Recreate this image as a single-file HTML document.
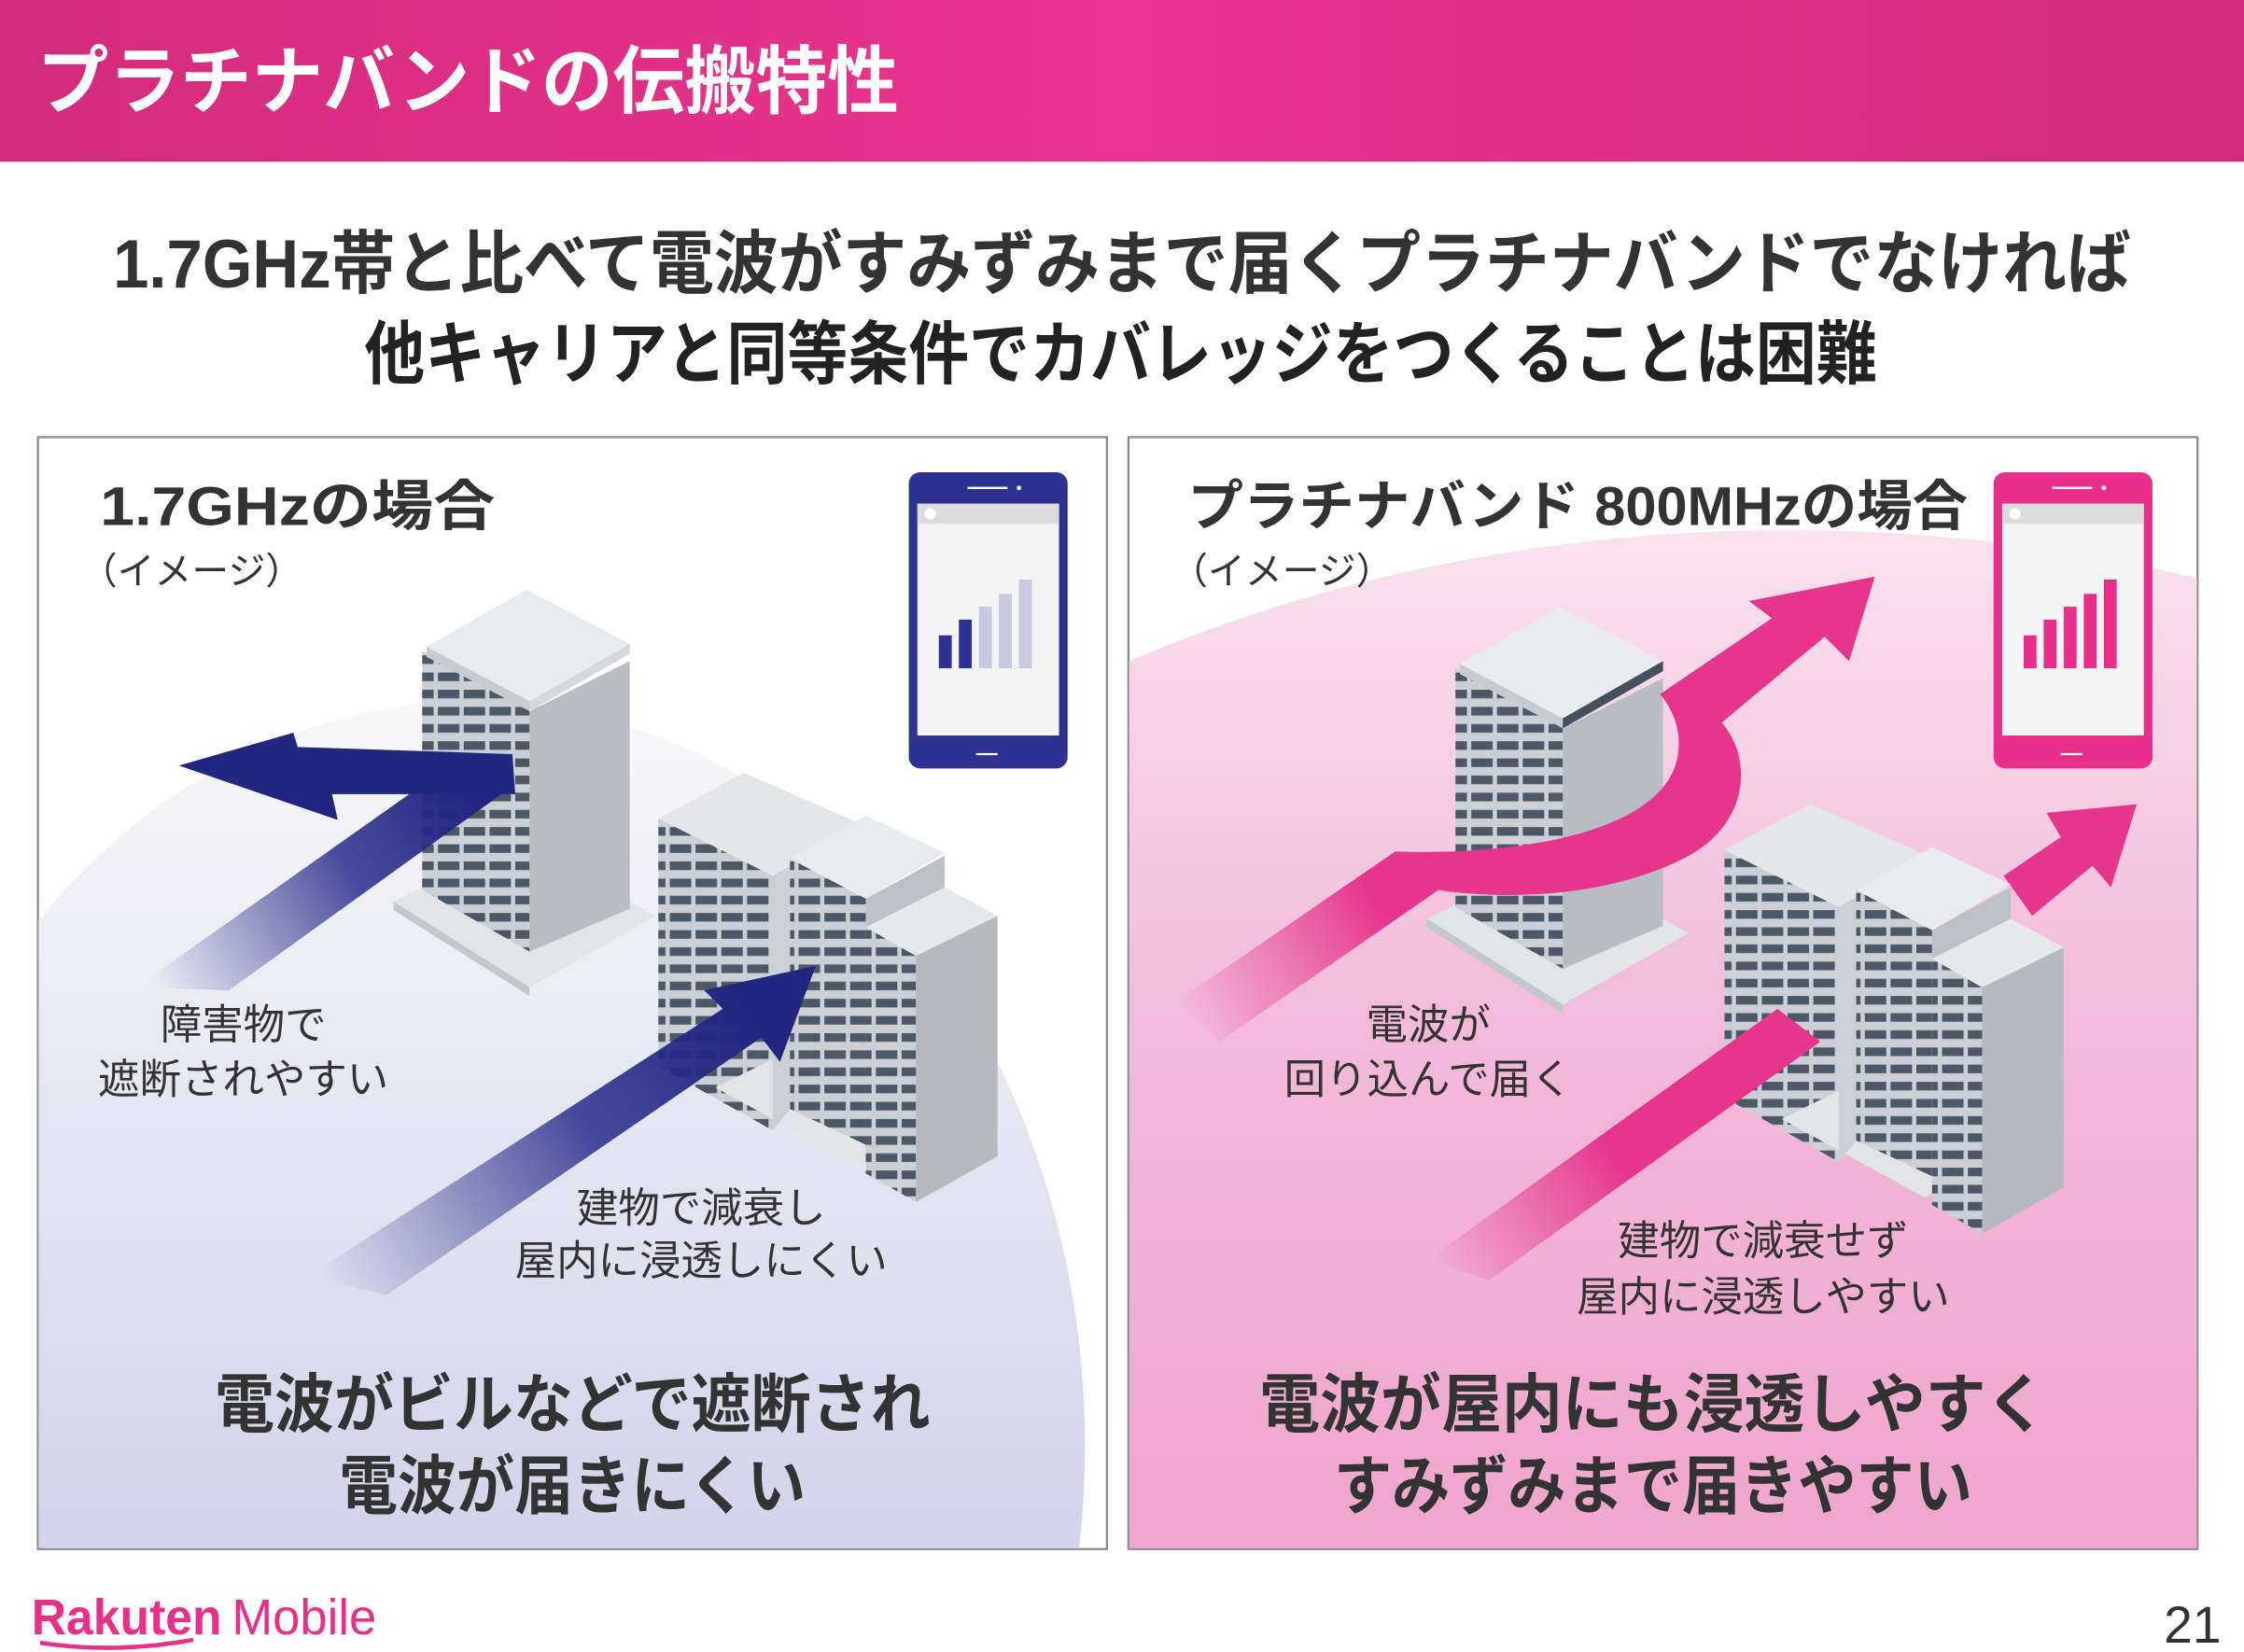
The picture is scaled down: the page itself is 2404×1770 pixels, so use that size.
<!DOCTYPE html>
<html><head><meta charset="utf-8"><style>
html,body{margin:0;padding:0;background:#fff;width:2404px;height:1770px;overflow:hidden;}
svg{display:block;}
text{font-family:"Liberation Sans","Noto Sans CJK JP",sans-serif;}
</style></head><body>
<svg width="2404" height="1770" viewBox="0 0 2404 1770" xmlns="http://www.w3.org/2000/svg">
<defs>
<linearGradient id="hdr" x1="0" x2="1" y1="0" y2="0"><stop offset="0" stop-color="#d32c7c"/><stop offset="0.5" stop-color="#ea348e"/><stop offset="1" stop-color="#d12c7b"/></linearGradient>
<linearGradient id="gl" gradientUnits="userSpaceOnUse" x1="0" x2="0" y1="490" y2="1082"><stop offset="0" stop-color="#f8f8f9"/><stop offset="1" stop-color="#d3d3ea"/></linearGradient>
<linearGradient id="gr" gradientUnits="userSpaceOnUse" x1="0" x2="0" y1="370" y2="1082"><stop offset="0" stop-color="#f9e3ef"/><stop offset="0.5" stop-color="#f2b9d8"/><stop offset="1" stop-color="#efa6cc"/></linearGradient>
<linearGradient id="ab1" gradientUnits="userSpaceOnUse" x1="110" y1="690" x2="330" y2="550"><stop offset="0" stop-color="#2b2e8c" stop-opacity="0"/><stop offset="0.6" stop-color="#2b2e8c" stop-opacity="0.85"/><stop offset="1" stop-color="#23267f"/></linearGradient>
<linearGradient id="ab2" gradientUnits="userSpaceOnUse" x1="230" y1="900" x2="520" y2="700"><stop offset="0" stop-color="#2b2e8c" stop-opacity="0"/><stop offset="0.6" stop-color="#2b2e8c" stop-opacity="0.85"/><stop offset="1" stop-color="#23267f"/></linearGradient>
<linearGradient id="pk1" gradientUnits="userSpaceOnUse" x1="830" y1="712" x2="960" y2="625"><stop offset="0" stop-color="#e6358b" stop-opacity="0"/><stop offset="1" stop-color="#e6358b"/></linearGradient>
<linearGradient id="pk2" gradientUnits="userSpaceOnUse" x1="1005" y1="890" x2="1130" y2="805"><stop offset="0" stop-color="#e6358b" stop-opacity="0"/><stop offset="1" stop-color="#e6358b"/></linearGradient>
<pattern id="win" patternUnits="userSpaceOnUse" width="18" height="12"><rect width="18" height="12" fill="#ccd0d6"/><rect x="0" y="2" width="15" height="6" fill="#4d5866"/></pattern>
</defs>
<g transform="scale(1.5332)">
<rect x="0" y="0" width="1568" height="113" fill="url(#hdr)"/>
<text x="26" y="75" font-size="52" font-weight="bold" fill="#fff" textLength="602" lengthAdjust="spacingAndGlyphs">プラチナバンドの伝搬特性</text>
<text x="784" y="201" font-size="48" font-weight="bold" fill="#333" text-anchor="middle" textLength="1410" lengthAdjust="spacingAndGlyphs">1.7GHz帯と比べて電波がすみずみまで届くプラチナバンドでなければ</text>
<text x="783" y="264" font-size="48" font-weight="bold" fill="#222" text-anchor="middle" textLength="1057" lengthAdjust="spacingAndGlyphs">他キャリアと同等条件でカバレッジをつくることは困難</text>

<!-- left panel -->
<rect x="26.5" y="305.5" width="747" height="777" fill="#fff" stroke="#8a8a8a" stroke-width="1.5"/>
<path d="M27,1082 L27,643 A428,520 0 0 1 754,1082 Z" fill="url(#gl)"/>
<text x="70" y="367" font-size="38" font-weight="bold" fill="#333" textLength="276" lengthAdjust="spacingAndGlyphs">1.7GHzの場合</text>
<text x="56" y="408" font-size="26" fill="#333">（イメージ）</text>

<!-- left tower -->
<polygon points="275,630 370,690 458,640 362,588" fill="#e2e4e8"/>
<polygon points="275,630 370,690 370,696 275,636" fill="#c4c7cd"/>
<polygon points="295,455 370,497 370,665 295,622" fill="url(#win)"/>
<polygon points="370,497 440,462 440,635 370,665" fill="#b9bcc3"/>
<polygon points="298,452 368,412 440,450 370,490" fill="#e9ebef"/>
<polygon points="298,452 370,490 370,497 298,459" fill="#c8cbd1"/>
<polygon points="370,490 440,450 440,457 370,497" fill="#d6d8dd"/>
<!-- left cluster -->
<polygon points="460,572 540,612 540,790 460,745" fill="url(#win)"/>
<polygon points="460,572 520,540 600,575 540,612" fill="#e4e6ea"/>
<polygon points="500,760 600,815 640,790 540,740" fill="#e2e4e8"/>
<polygon points="540,612 552,605 552,775 540,790" fill="#ccd0d6"/>
<polygon points="552,600 605,628 605,800 552,775" fill="url(#win)"/>
<polygon points="605,628 660,598 660,780 605,800" fill="#bdc0c7"/>
<polygon points="552,600 605,570 660,596 605,628" fill="#e9ebef"/>
<polygon points="605,648 640,668 640,840 605,820" fill="url(#win)"/>
<polygon points="640,668 697,640 697,808 640,840" fill="#b6b9c0"/>
<polygon points="605,648 660,620 697,640 640,668" fill="#e6e8ec"/>

<!-- left arrows -->
<polygon points="95,690 300,545 360,548 160,692" fill="url(#ab1)"/>
<polygon points="125,535 205,512 208,522 358,527 360,555 232,555 236,573" fill="#23267f"/>
<polygon points="215,892 505,705 492,692 570,675 545,742 532,725 270,905" fill="url(#ab2)"/>

<!-- left phone -->
<rect x="635" y="330" width="111" height="207" rx="8" fill="#2e3192"/>
<rect x="641" y="352" width="99" height="162" fill="#f4f4f4"/>
<rect x="641" y="352" width="99" height="14" fill="#dcdcdc"/>
<circle cx="650" cy="359" r="4" fill="#fff"/>
<line x1="676" y1="341" x2="704" y2="341" stroke="#fff" stroke-width="1.5"/><circle cx="712" cy="341" r="1.6" fill="#fff"/>
<line x1="682" y1="527" x2="697" y2="527" stroke="#fff" stroke-width="1.5"/>
<rect x="656" y="444" width="9" height="23" fill="#2e3192"/>
<rect x="670" y="433" width="9" height="34" fill="#2e3192"/>
<rect x="684" y="424" width="9" height="43" fill="#c8c8e0"/>
<rect x="698" y="415" width="9" height="52" fill="#c8c8e0"/>
<rect x="712" y="405" width="9" height="62" fill="#c8c8e0"/>

<g fill="#333" font-size="29" text-anchor="middle">
<text x="170" y="726">障害物で</text>
<text x="170" y="764">遮断されやすい</text>
<text x="490" y="854">建物で減衰し</text>
<text x="490" y="891">屋内に浸透しにくい</text>
</g>
<g fill="#333" font-size="45" font-weight="bold" text-anchor="middle">
<text x="400" y="997" textLength="500" lengthAdjust="spacingAndGlyphs">電波がビルなどで遮断され</text>
<text x="400" y="1054" textLength="326" lengthAdjust="spacingAndGlyphs">電波が届きにくい</text>
</g>

<!-- right panel -->
<rect x="788.5" y="305.5" width="747" height="777" fill="#fff" stroke="#8a8a8a" stroke-width="1.5"/>
<path d="M789,1082 L789,462 A900,650 0 0 1 1535,404 L1535,1082 Z" fill="url(#gr)"/>
<text x="830" y="367" font-size="38" font-weight="bold" fill="#333" textLength="545" lengthAdjust="spacingAndGlyphs">プラチナバンド 800MHzの場合</text>
<text x="818" y="408" font-size="26" fill="#333">（イメージ）</text>

<!-- upper pink arrow tail (behind cluster) -->
<polygon points="1400,612 1440,585 1430,568 1493,562 1475,620 1462,605 1420,640" fill="#e6358b"/>

<!-- right tower -->
<g transform="translate(722,12)">
<polygon points="275,630 370,690 458,640 362,588" fill="#e2e4e8"/>
<polygon points="275,630 370,690 370,696 275,636" fill="#c4c7cd"/>
<polygon points="295,455 370,497 370,665 295,622" fill="url(#win)"/>
<polygon points="370,497 440,462 440,635 370,665" fill="#b9bcc3"/>
<polygon points="298,452 368,412 440,450 370,490" fill="#e9ebef"/>
<polygon points="298,452 370,490 370,497 298,459" fill="#c8cbd1"/>
<polygon points="370,490 440,450 440,457 370,497" fill="#46515e"/>
</g>
<!-- curved pink arrow -->
<path d="M 822,700 L 975,595 C 1050,598 1160,585 1172,530 C 1176,510 1168,495 1160,485 L 1238,432 L 1222,420 L 1310,403 L 1292,462 L 1275,445 L 1203,505 C 1225,530 1222,575 1180,598 C 1130,625 1060,630 1005,622 L 852,728 Z" fill="url(#pk1)"/>

<!-- right cluster -->
<g transform="translate(745,22)">
<polygon points="460,572 540,612 540,790 460,745" fill="url(#win)"/>
<polygon points="460,572 520,540 600,575 540,612" fill="#e4e6ea"/>
<polygon points="500,760 600,815 640,790 540,740" fill="#e2e4e8"/>
<polygon points="540,612 552,605 552,775 540,790" fill="#ccd0d6"/>
<polygon points="552,600 605,628 605,800 552,775" fill="url(#win)"/>
<polygon points="605,628 660,598 660,780 605,800" fill="#bdc0c7"/>
<polygon points="552,600 605,570 660,596 605,628" fill="#e9ebef"/>
<polygon points="605,648 640,668 640,840 605,820" fill="url(#win)"/>
<polygon points="640,668 697,640 697,808 640,840" fill="#b6b9c0"/>
<polygon points="605,648 660,620 697,640 640,668" fill="#e6e8ec"/>
</g>
<!-- lower pink arrow -->
<polygon points="998,880 1242,705 1272,728 1040,895" fill="url(#pk2)"/>

<!-- right phone -->
<rect x="1393" y="330" width="111" height="207" rx="8" fill="#e8308a"/>
<rect x="1399" y="352" width="99" height="162" fill="#f4f4f4"/>
<rect x="1399" y="352" width="99" height="14" fill="#dcdcdc"/>
<circle cx="1408" cy="359" r="4" fill="#fff"/>
<line x1="1434" y1="341" x2="1462" y2="341" stroke="#fff" stroke-width="1.5"/><circle cx="1470" cy="341" r="1.6" fill="#fff"/>
<line x1="1440" y1="527" x2="1455" y2="527" stroke="#fff" stroke-width="1.5"/>
<rect x="1414" y="444" width="9" height="23" fill="#e8308a"/>
<rect x="1428" y="433" width="9" height="34" fill="#e8308a"/>
<rect x="1442" y="424" width="9" height="43" fill="#e8308a"/>
<rect x="1456" y="415" width="9" height="52" fill="#e8308a"/>
<rect x="1470" y="405" width="9" height="62" fill="#e8308a"/>

<g fill="#333" font-size="29" text-anchor="middle">
<text x="998" y="726">電波が</text>
<text x="998" y="764">回り込んで届く</text>
<text x="1232" y="877">建物で減衰せず</text>
<text x="1232" y="916">屋内に浸透しやすい</text>
</g>
<g fill="#333" font-size="45" font-weight="bold" text-anchor="middle">
<text x="1155" y="997" textLength="550" lengthAdjust="spacingAndGlyphs">電波が屋内にも浸透しやすく</text>
<text x="1155" y="1054" textLength="446" lengthAdjust="spacingAndGlyphs">すみずみまで届きやすい</text>
</g>

<!-- footer -->
<text x="22" y="1142" font-size="35" font-weight="bold" fill="#e8308a" textLength="133" lengthAdjust="spacingAndGlyphs">Rakuten</text>
<text x="162" y="1142" font-size="35" fill="#e8308a" textLength="101" lengthAdjust="spacingAndGlyphs">Mobile</text>
<path d="M 28,1148 Q 80,1156 135,1146" stroke="#e8308a" stroke-width="3" fill="none"/>
<text x="1552" y="1148" font-size="36" fill="#333" text-anchor="end">21</text>
</g>
</svg>
</body></html>
